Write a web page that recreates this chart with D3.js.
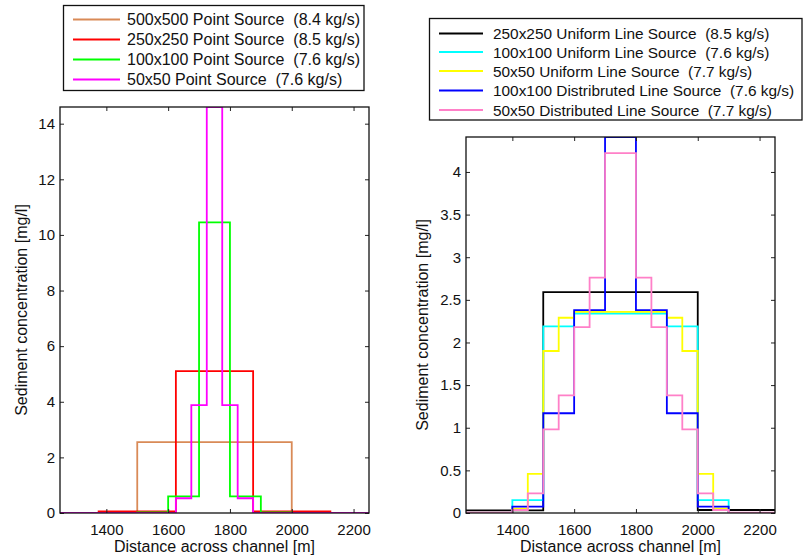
<!DOCTYPE html>
<html>
<head>
<meta charset="utf-8">
<script src="https://cdn.jsdelivr.net/npm/d3@7"></script>
<style>
  html, body { margin: 0; padding: 0; background: #fff; }
  svg { display: block; font-family: "Liberation Sans", Arial, Helvetica, sans-serif; }
  text { white-space: pre; }
</style>
</head>
<body>
<svg id="fig" width="803" height="558"></svg>
<script>
// ---------- data ----------
// Cell edges [m] and cell-averaged concentrations [mg/l] for each source set-up.
const xTicks = [1400, 1600, 1800, 2000, 2200];
const xDomain = [1250, 2250];

// Point sources (left panel)
const pt500Edges = [1000, 1500, 2000, 2500];
const pt500Conc  = [0, 2.55, 0];
const pt250Edges = [1125, 1375, 1625, 1875, 2125, 2375];
const pt250Conc  = [0, 0.06, 5.1, 0.06, 0];
const pt100Edges = [1200, 1500, 1600, 1700, 1800, 1900, 2000, 2300];
const pt100Conc  = [0, 0.02, 0.6, 10.45, 0.6, 0.02, 0];
const pt50Edges  = [1200, 1625, 1675, 1725, 1775, 1825, 1875, 2300];
const pt50Conc   = [0, 0.53, 3.88, 14.6, 3.88, 0.53, 0];
const leftYTicks = [0, 2, 4, 6, 8, 10, 12, 14];

// Line sources (right panel)
const un250Edges = [1250, 1500, 1750, 2000, 2250];
const un250Conc  = [0.03, 2.59, 2.59, 0.035];
const un100Edges = [1250, 1400, 1500, 1600, 1700, 1800, 1900, 2000, 2100, 2250];
const un100Conc  = [0, 0.15, 2.19, 2.34, 2.34, 2.34, 2.19, 0.15, 0];
const un50Edges  = [1250, 1400, 1450, 1500, 1550, 1600, 1900, 1950, 2000, 2050, 2100, 2250];
const un50Conc   = [0, 0.05, 0.46, 1.9, 2.29, 2.36, 2.29, 1.9, 0.46, 0.05, 0];
const di100Edges = [1250, 1400, 1500, 1600, 1700, 1800, 1900, 2000, 2100, 2250];
const di100Conc  = [0, 0.075, 1.17, 2.38, 4.41, 2.38, 1.17, 0.075, 0];
const di50Edges  = [1250, 1400, 1450, 1500, 1550, 1600, 1650, 1700, 1750, 1800, 1850, 1900, 1950, 2000, 2050, 2100, 2250];
const di50Conc   = [0.005, 0.035, 0.23, 0.98, 1.38, 2.18, 2.76, 4.22, 4.22, 2.76, 2.18, 1.38, 0.98, 0.23, 0.035, 0.005];
const rightYTicks = [0, 0.5, 1, 1.5, 2, 2.5, 3, 3.5, 4];

const leftNames = [
  "500x500 Point Source  (8.4 kg/s)",
  "250x250 Point Source  (8.5 kg/s)",
  "100x100 Point Source  (7.6 kg/s)",
  "50x50 Point Source  (7.6 kg/s)"
];
const rightNames = [
  "250x250 Uniform Line Source  (8.5 kg/s)",
  "100x100 Uniform Line Source  (7.6 kg/s)",
  "50x50 Uniform Line Source  (7.7 kg/s)",
  "100x100 Distribruted Line Source  (7.6 kg/s)",
  "50x50 Distributed Line Source  (7.7 kg/s)"
];
const xLabel = "Distance across channel [m]";
const yLabel = "Sediment concentration [mg/l]";

// ---------- drawing ----------
const svg = d3.select("#fig");

// turn edges + cell values into a staircase of points
function stairs(edges, conc) {
  const pts = [];
  conc.forEach((c, i) => {
    pts.push([edges[i], c]);
    pts.push([edges[i + 1], c]);
  });
  return pts;
}

function panel(cfg) {
  const { left, right, top, bottom, series, yTicks, id } = cfg;
  const x = d3.scaleLinear().domain(xDomain).range([left, right]);
  const yMax = d3.max(series, s => d3.max(s.conc));
  const y = d3.scaleLinear().domain([0, yMax]).range([bottom, top]);

  const g = svg.append("g");
  g.append("clipPath").attr("id", id)
    .append("rect").attr("x", left).attr("y", top)
    .attr("width", right - left).attr("height", bottom - top);

  const line = d3.line().x(d => x(d[0])).y(d => y(d[1]));
  const lines = g.append("g").attr("clip-path", `url(#${id})`);
  series.forEach(s => {
    lines.append("path")
      .attr("d", line(stairs(s.edges, s.conc)))
      .attr("fill", "none")
      .attr("stroke", s.color)
      .attr("stroke-width", 1.8);
  });

  const tickLen = 4;
  const fmt = d => String(d);
  // bottom & top axes (ticks pointing inwards)
  g.append("g").attr("transform", `translate(0,${bottom})`)
    .call(d3.axisBottom(x).tickValues(xTicks).tickSizeInner(-tickLen).tickSizeOuter(0).tickPadding(11).tickFormat(fmt));
  g.append("g").attr("transform", `translate(0,${top})`)
    .call(d3.axisTop(x).tickValues(xTicks).tickSizeInner(-tickLen).tickSizeOuter(0).tickFormat(""));
  g.append("g").attr("transform", `translate(${left},0)`)
    .call(d3.axisLeft(y).tickValues(yTicks).tickSizeInner(-tickLen).tickSizeOuter(0).tickPadding(5).tickFormat(fmt));
  g.append("g").attr("transform", `translate(${right},0)`)
    .call(d3.axisRight(y).tickValues(yTicks).tickSizeInner(-tickLen).tickSizeOuter(0).tickFormat(""));
  g.selectAll(".domain").remove();
  g.selectAll(".tick line").attr("stroke", "#222").attr("stroke-width", 1);
  g.selectAll(".tick text").attr("font-size", 15).attr("fill", "#111")
    .attr("font-family", "Liberation Sans, Arial, sans-serif");

  g.append("rect").attr("x", left).attr("y", top)
    .attr("width", right - left).attr("height", bottom - top)
    .attr("fill", "none").attr("stroke", "#111").attr("stroke-width", 1.3);

  g.append("text").attr("x", (left + right) / 2).attr("y", 552)
    .attr("text-anchor", "middle").attr("font-size", 16).attr("fill", "#111")
    .text(xLabel);
  g.append("text")
    .attr("transform", `translate(${cfg.yLabelX},${(top + bottom) / 2}) rotate(-90)`)
    .attr("text-anchor", "middle").attr("font-size", 16).attr("fill", "#111")
    .text(yLabel);
}

function legend(cfg) {
  const { x0, y0, x1, y1, rowY, lineX0, lineX1, textX, names, colors, fontSize } = cfg;
  const g = svg.append("g");
  g.append("rect").attr("x", x0).attr("y", y0).attr("width", x1 - x0).attr("height", y1 - y0)
    .attr("fill", "#fff").attr("stroke", "#111").attr("stroke-width", 1.3);
  names.forEach((n, i) => {
    const yy = rowY[i];
    g.append("line").attr("x1", lineX0).attr("x2", lineX1).attr("y1", yy).attr("y2", yy)
      .attr("stroke", colors[i]).attr("stroke-width", 1.8);
    g.append("text").attr("x", textX).attr("y", yy).attr("dy", "0.36em")
      .attr("font-size", fontSize).attr("fill", "#111").text(n);
  });
}

const leftColors = ["#d98a57", "#ff0000", "#00ff00", "#ff00ff"];
const rightColors = ["#000000", "#00ffff", "#ffff00", "#0000ff", "#ff80c8"];

panel({
  id: "clipL", left: 60, right: 369, top: 107, bottom: 513, yLabelX: 27,
  yTicks: leftYTicks,
  series: [
    { edges: pt500Edges, conc: pt500Conc, color: leftColors[0] },
    { edges: pt250Edges, conc: pt250Conc, color: leftColors[1] },
    { edges: pt100Edges, conc: pt100Conc, color: leftColors[2] },
    { edges: pt50Edges,  conc: pt50Conc,  color: leftColors[3] }
  ]
});

panel({
  id: "clipR", left: 466, right: 775, top: 137, bottom: 513, yLabelX: 428,
  yTicks: rightYTicks,
  series: [
    { edges: un250Edges, conc: un250Conc, color: rightColors[0] },
    { edges: un100Edges, conc: un100Conc, color: rightColors[1] },
    { edges: un50Edges,  conc: un50Conc,  color: rightColors[2] },
    { edges: di100Edges, conc: di100Conc, color: rightColors[3] },
    { edges: di50Edges,  conc: di50Conc,  color: rightColors[4] }
  ]
});

legend({
  x0: 63.5, y0: 5.5, x1: 364, y1: 90.5, rowY: [19.5, 39.5, 59.5, 79.5],
  lineX0: 73, lineX1: 120, textX: 127, names: leftNames, colors: leftColors, fontSize: 16
});
legend({
  x0: 429.5, y0: 18.5, x1: 802, y1: 120, rowY: [33.5, 52, 71, 90.5, 110],
  lineX0: 439, lineX1: 483, textX: 493, names: rightNames, colors: rightColors, fontSize: 15.4
});
</script>
</body>
</html>
